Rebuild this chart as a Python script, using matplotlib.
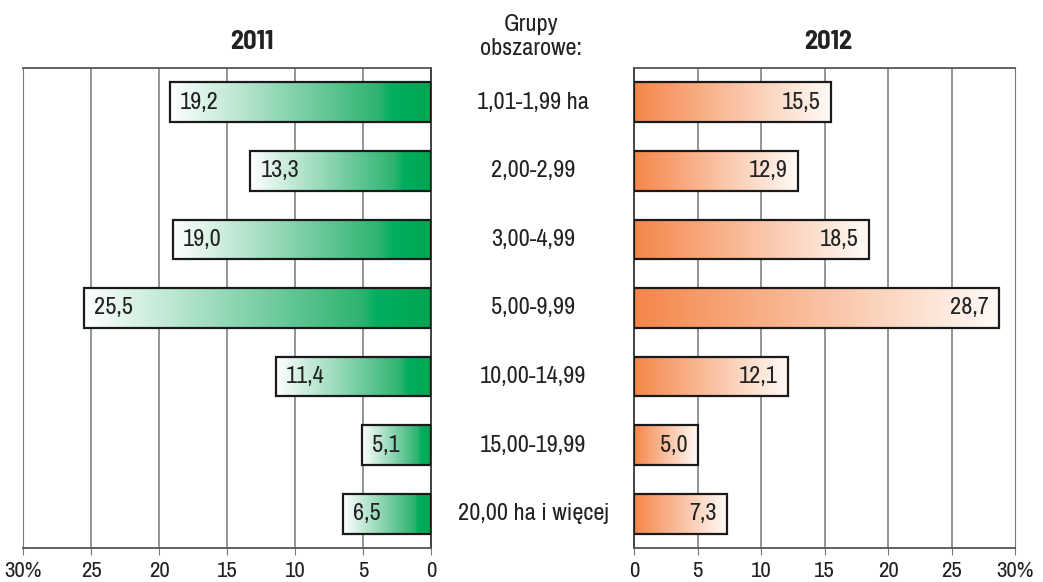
import matplotlib
matplotlib.use('Agg')
import matplotlib.pyplot as plt
import numpy as np
from matplotlib.colors import LinearSegmentedColormap

plt.rcParams['font.family'] = ['Archivo Narrow', 'Liberation Sans Narrow', 'DejaVu Sans']
TITLE_FONT = ['Barlow Semi Condensed', 'Archivo Narrow', 'DejaVu Sans']

# dane
groups = ['1,01-1,99 ha', '2,00-2,99', '3,00-4,99', '5,00-9,99',
          '10,00-14,99', '15,00-19,99', '20,00 ha i więcej']
v2011 = [19.2, 13.3, 19.0, 25.5, 11.4, 5.1, 6.5]
v2012 = [15.5, 12.9, 18.5, 28.7, 12.1, 5.0, 7.3]
ticks = [0, 5, 10, 15, 20, 25, 30]
tick_labels = ['0', '5', '10', '15', '20', '25', '30%']

green = LinearSegmentedColormap.from_list(
    'g', [(0, '#00a651'), (0.15, '#00ad60'), (0.2, '#2db370'), (1, '#ffffff')])
orange = LinearSegmentedColormap.from_list(
    'o', [(0, '#f5864a'), (1, '#fffaf6')])

fig = plt.figure(figsize=(10.43, 5.82), dpi=100)
axL = fig.add_axes([0.0221, 0.0584, 0.3912, 0.8248])
axR = fig.add_axes([0.6079, 0.0584, 0.3653, 0.8248])

h = 0.58
grad = np.linspace(0, 1, 256).reshape(1, -1)


def draw(ax, vals, cmap, left):
    for i, v in enumerate(vals):
        ax.imshow(grad, extent=[0, v, i + h / 2, i - h / 2], aspect='auto',
                  cmap=cmap, zorder=2, interpolation='bilinear')
    ax.barh(range(len(vals)), vals, height=h, facecolor='none',
            edgecolor='#1a1a1a', linewidth=1.6, zorder=3)
    for i, v in enumerate(vals):
        lbl = ('%.1f' % v).replace('.', ',')
        if left:
            ax.text(v - 0.75, i, lbl, ha='left', va='center', fontsize=17.5,
                    color='#222222', zorder=4)
        else:
            ax.text(v - 0.8, i, lbl, ha='right', va='center', fontsize=17.5,
                    color='#222222', zorder=4)
    ax.set_ylim(len(vals) - 0.5, -0.5)
    ax.set_xlim(0, 30)
    ax.set_xticks(ticks)
    ax.set_xticklabels(tick_labels, fontsize=16.5, color='#222222')
    ax.set_yticks([])
    for x in ticks[1:-1]:
        ax.axvline(x, color='#777777', linewidth=1.1, zorder=1)
    ax.tick_params(axis='x', length=5, color='#777777', pad=4)
    for s in ['top', 'bottom']:
        ax.spines[s].set_color('#555555')
        ax.spines[s].set_linewidth(1.3)


draw(axL, v2011, green, True)
axL.invert_xaxis()
axL.spines['left'].set_color('#777777')
axL.spines['right'].set_color('#333333')
axL.spines['right'].set_linewidth(1.3)

draw(axR, v2012, orange, False)
axR.spines['left'].set_color('#333333')
axR.spines['left'].set_linewidth(1.3)
axR.spines['right'].set_color('#777777')

for i, g in enumerate(groups):
    y = 0.8832 - 0.8248 * (i + 0.5) / 7
    fig.text(0.511, y, g, ha='center', va='center', fontsize=17.5, color='#222222')

fig.text(0.241, 0.928, '2011', ha='center', va='center', fontsize=19,
         fontweight='bold', color='#222222', family=TITLE_FONT)
fig.text(0.794, 0.928, '2012', ha='center', va='center', fontsize=19,
         fontweight='bold', color='#222222', family=TITLE_FONT)
fig.text(0.509, 0.937, 'Grupy\nobszarowe:', ha='center', va='center',
         fontsize=17.5, color='#222222', linespacing=1.2)

plt.savefig('out.png', dpi=100)
